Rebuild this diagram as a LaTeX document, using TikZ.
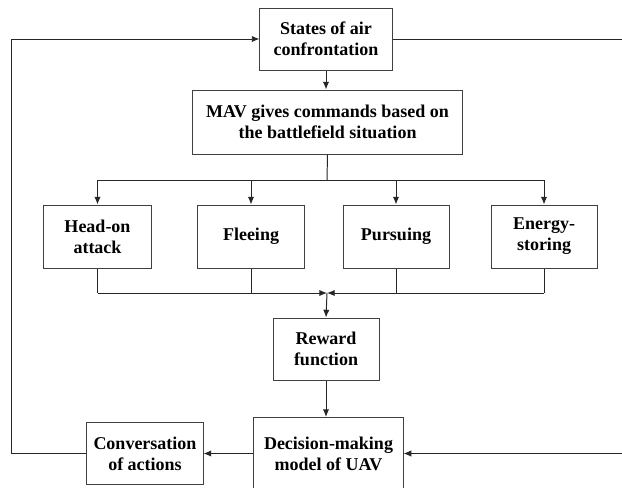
\documentclass[tikz,border=0pt]{standalone}
\usepackage{fontspec}
\setmainfont{Liberation Serif}
\usetikzlibrary{arrows.meta}
\begin{document}
\begin{tikzpicture}[x=0.025cm,y=-0.025cm,
  blk/.style={draw=black!75, line width=0.7pt, inner sep=0pt, align=center,
    font=\rmfamily\bfseries\fontsize{12.8}{15}\selectfont},
  ln/.style={line width=0.7pt, draw=black!85},
  arr/.style={ln, -{Latex[length=5.5pt,width=4.5pt]}}]
\useasboundingbox (0,0) rectangle (622,487);
\node[blk, minimum width=3.3cm, minimum height=1.55cm] (states) at (326,39)
{States of air\\confrontation};
\node[blk, minimum width=6.725cm, minimum height=1.6cm] (mav) at (327.5,122)
{MAV gives commands based on\\the battlefield situation};
\node[blk, minimum width=2.675cm, minimum height=1.575cm] (head) at (97.5,236.5)
{Head-on\\attack};
\node[blk, minimum width=2.65cm, minimum height=1.575cm] (flee) at (251,236.5)
{Fleeing};
\node[blk, minimum width=2.65cm, minimum height=1.575cm] (pursue) at (396,236.5)
{Pursuing};
\node[blk, minimum width=2.65cm, minimum height=1.575cm] (energy) at (544,236.5)
{Energy-\\storing};
\node[blk, minimum width=2.65cm, minimum height=1.55cm] (reward) at (326,349)
{Reward\\function};
\node[blk, minimum width=3.725cm, minimum height=1.8cm] (dec) at (328.5,453.5)
{Decision-making\\model of UAV};
\node[blk, minimum width=2.9cm, minimum height=1.55cm] (conv) at (145,453.5)
{Conversation\\of actions};
\coordinate (bustop) at (327,180);
\coordinate (busbot) at (327,293);
\coordinate (lft) at (11,453.5);
\coordinate (rtop) at (622,39);
\coordinate (rbot) at (622,453.5);
\draw[arr] (states) -- (states |- mav.north);
\draw[ln] (mav.south) -- (bustop);
\draw[ln] (head.north |- bustop) -- (energy.north |- bustop);
\foreach \n in {head,flee,pursue,energy}
  \draw[arr] (\n.north |- bustop) -- (\n.north);
\foreach \n in {head,flee,pursue,energy}
  \draw[ln] (\n.south) -- (\n.south |- busbot);
\draw[arr] (head.south |- busbot) -- (busbot);
\draw[arr] (energy.south |- busbot) -- (busbot);
\draw[arr] (busbot) -- (reward.north);
\draw[arr] (reward.south) -- (reward.south |- dec.north);
\draw[arr] (dec.west) -- (conv.east);
\draw[arr] (conv.west) -- (lft) |- (states.west);
\draw[ln] (states.east) -- (rtop);
\draw[arr] (rbot) -- (dec.east);
\end{tikzpicture}
\end{document}
